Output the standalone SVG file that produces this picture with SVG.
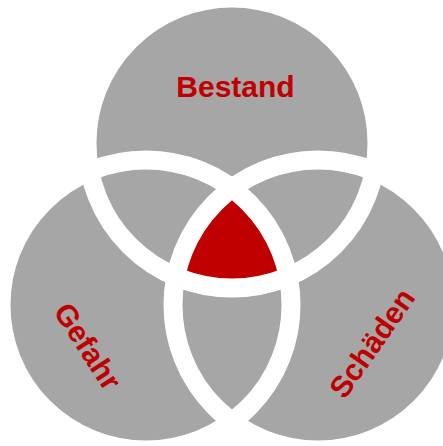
<svg xmlns="http://www.w3.org/2000/svg" width="443" height="446" viewBox="0 0 443 446">
  <style>
    .disk { fill: #A6A6A6; stroke: none; }
    .ring { fill: none; stroke: #FFFFFF; stroke-width: 19; }
    .lbl { font-family: "Liberation Sans", Arial, sans-serif; font-weight: bold; font-size: 30px; fill: #C00000; text-anchor: middle; }
  </style>
  <rect width="443" height="446" fill="#FFFFFF"/>
  <g id="bestand">
    <circle class="disk" cx="232" cy="143" r="145"/>
    <text class="lbl" x="235.5" y="97">Bestand</text>
  </g>
  <g id="gefahr">
    <circle class="disk" cx="146" cy="305" r="145"/>
    <text class="lbl" transform="translate(79,352) rotate(57)">Gefahr</text>
  </g>
  <g id="schaeden">
    <circle class="disk" cx="318" cy="305" r="145"/>
    <text class="lbl" transform="translate(380.5,349) rotate(-55)">Schäden</text>
  </g>
  <g id="schnittmenge">
    <path fill="#C00000" d="M232,188.3 A145,145 0 0,1 288.2,276.7 A145,145 0 0,1 175.8,276.7 A145,145 0 0,1 232,188.3 Z"/>
  </g>
  <g id="connectors">
    <circle class="ring" cx="232" cy="143" r="145"/>
    <circle class="ring" cx="146" cy="305" r="145"/>
    <circle class="ring" cx="318" cy="305" r="145"/>
  </g>
</svg>
